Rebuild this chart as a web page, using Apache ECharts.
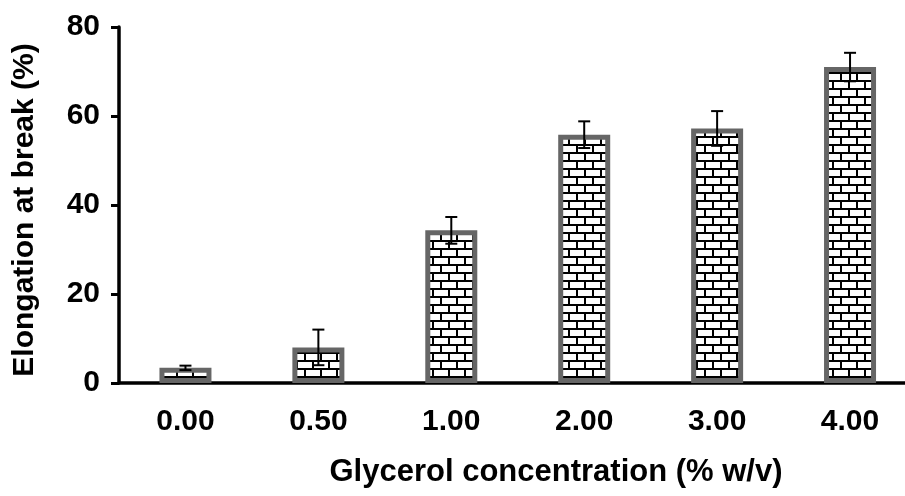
<!DOCTYPE html>
<html>
<head>
<meta charset="utf-8">
<script src="https://cdn.jsdelivr.net/npm/echarts@6/dist/echarts.min.js"></script>
<style>
  html, body { margin: 0; padding: 0; background: #fff; }
  #chart { width: 905px; height: 496px; }
</style>
</head>
<body>
<div id="chart"></div>
<script>
// Glycerol concentrations (% w/v)
const categories = ['0.00', '0.50', '1.00', '2.00', '3.00', '4.00'];
// Mean elongation at break (%)
const elongation = [3.4, 8.0, 34.3, 55.8, 57.2, 71.0];
// Standard deviation for each mean
const elongationErr = [0.5, 4.0, 3.0, 3.0, 3.9, 3.2];
const yTicks = [0, 20, 40, 60, 80];

// Horizontal brick fill
function brickPattern() {
  const c = document.createElement('canvas');
  c.width = 16; c.height = 16;
  const g = c.getContext('2d');
  g.fillStyle = '#ffffff';
  g.fillRect(0, 0, 16, 16);
  g.fillStyle = '#000000';
  g.fillRect(0, 0, 16, 2);
  g.fillRect(0, 8, 16, 2);
  g.fillRect(0, 0, 2, 8);
  g.fillRect(8, 8, 2, 8);
  return c;
}

const font = '"Liberation Sans", Arial, sans-serif';
const chart = echarts.init(document.getElementById('chart'), null, { renderer: 'canvas' });

chart.setOption({
  animation: false,
  grid: {
    left: 119, right: -11.5, top: 27, bottom: 113,
    containLabel: false,
    outerBoundsMode: 'none'
  },
  xAxis: {
    type: 'category',
    data: categories,
    axisLine: { lineStyle: { color: '#000', width: 3.5 } },
    axisTick: { show: false },
    axisLabel: { color: '#000', fontFamily: font, fontWeight: 'bold', fontSize: 30, margin: 24 }
  },
  yAxis: {
    type: 'value',
    min: yTicks[0],
    max: yTicks[yTicks.length - 1],
    interval: 20,
    splitLine: { show: false },
    axisLine: { show: true, lineStyle: { color: '#000', width: 3.5 } },
    axisTick: { show: true, inside: false, length: 8, lineStyle: { color: '#000', width: 3 } },
    axisLabel: { color: '#000', fontFamily: font, fontWeight: 'bold', fontSize: 30, margin: 19 }
  },
  graphic: [
    {
      type: 'text',
      x: 556,
      y: 472,
      style: {
        text: 'Glycerol concentration (% w/v)',
        fill: '#000',
        font: 'bold 31px ' + font,
        textAlign: 'center',
        textVerticalAlign: 'middle'
      }
    },
    {
      type: 'text',
      x: 25,
      y: 210,
      rotation: Math.PI / 2,
      style: {
        text: 'Elongation at break (%)',
        fill: '#000',
        font: 'bold 30px ' + font,
        textAlign: 'center',
        textVerticalAlign: 'middle'
      }
    }
  ],
  series: [
    {
      type: 'bar',
      data: elongation,
      barWidth: 52,
      itemStyle: {
        color: { image: brickPattern(), repeat: 'repeat' },
        borderColor: '#666666',
        borderWidth: 5
      }
    },
    {
      type: 'custom',
      data: elongation.map((v, i) => [i, v, elongationErr[i]]),
      z: 10,
      renderItem: function (params, api) {
        const x = api.value(0);
        const v = api.value(1);
        const e = api.value(2);
        const hi = api.coord([x, v + e]);
        const lo = api.coord([x, v - e]);
        const cap = 6;
        const style = { stroke: '#000', lineWidth: 2 };
        return {
          type: 'group',
          children: [
            { type: 'line', shape: { x1: hi[0], y1: hi[1], x2: lo[0], y2: lo[1] }, style: style },
            { type: 'line', shape: { x1: hi[0] - cap, y1: hi[1], x2: hi[0] + cap, y2: hi[1] }, style: style },
            { type: 'line', shape: { x1: lo[0] - cap, y1: lo[1], x2: lo[0] + cap, y2: lo[1] }, style: style }
          ]
        };
      }
    }
  ]
});
</script>
</body>
</html>
